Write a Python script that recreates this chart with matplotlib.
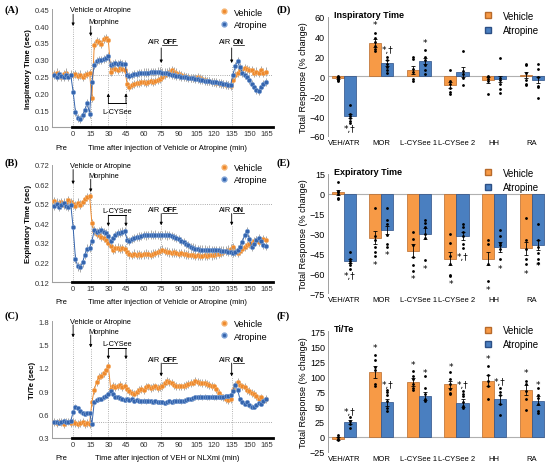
import numpy as np
import matplotlib.pyplot as plt
from matplotlib.lines import Line2D

plt.rcParams['font.family'] = ['Liberation Sans', 'DejaVu Sans']

# ---- time course data (min, every 2 min) ----
time_min = np.arange(-16, 166, 2)

insp_veh = [0.258, 0.262, 0.255, 0.250, 0.258, 0.262, 0.252, 0.256,
            0.255, 0.258, 0.252, 0.256, 0.250, 0.255, 0.258, 0.260,
            0.185,
            0.345, 0.355, 0.352, 0.348, 0.362, 0.365,
            0.358,
            0.265, 0.275, 0.272, 0.270, 0.275, 0.272, 0.268,
            0.228,
            0.220, 0.225, 0.228, 0.232, 0.230, 0.233, 0.235, 0.232, 0.234, 0.236, 0.235, 0.238, 0.240, 0.242,
            0.250, 0.255, 0.262, 0.265, 0.268, 0.265, 0.262, 0.258, 0.255, 0.252,
            0.250, 0.248, 0.246, 0.245, 0.246, 0.248, 0.245, 0.242, 0.240, 0.238,
            0.236, 0.235, 0.234, 0.232, 0.230, 0.228, 0.227, 0.226, 0.224, 0.222,
            0.240, 0.255, 0.262, 0.268, 0.272, 0.275, 0.272, 0.270, 0.268, 0.262,
            0.265, 0.260, 0.268, 0.262, 0.265]
insp_atr = [0.255, 0.250, 0.258, 0.252, 0.248, 0.256, 0.250, 0.254,
            0.205, 0.145, 0.128, 0.125, 0.135, 0.150, 0.172, 0.140,
            0.235,
            0.285, 0.295, 0.298, 0.300, 0.302, 0.305,
            0.312,
            0.285, 0.288, 0.290, 0.287, 0.290, 0.288, 0.286,
            0.255,
            0.252, 0.255, 0.258, 0.258, 0.260, 0.260, 0.262, 0.262, 0.262, 0.263, 0.263, 0.264, 0.265, 0.265,
            0.262, 0.262, 0.260, 0.258, 0.256, 0.255, 0.253, 0.252, 0.250, 0.250,
            0.248, 0.247, 0.246, 0.245, 0.244, 0.242, 0.241, 0.240, 0.238, 0.237,
            0.236, 0.235, 0.234, 0.233, 0.232, 0.230, 0.229, 0.228, 0.226, 0.224,
            0.255, 0.280, 0.295, 0.278, 0.262, 0.255, 0.248, 0.240, 0.228, 0.218,
            0.210, 0.208, 0.220, 0.228, 0.234]

exp_veh = [0.535, 0.525, 0.520, 0.530, 0.515, 0.525, 0.540, 0.530,
           0.520, 0.510, 0.525, 0.515, 0.530, 0.545, 0.555, 0.560,
           0.420,
           0.380, 0.365, 0.360, 0.350, 0.345, 0.335,
           0.320,
           0.305, 0.285, 0.292, 0.295, 0.290, 0.292, 0.288,
           0.275,
           0.262, 0.258, 0.265, 0.260, 0.262, 0.258, 0.262, 0.265, 0.262, 0.260, 0.265, 0.268, 0.272, 0.280,
           0.285, 0.278, 0.275, 0.272, 0.270, 0.272, 0.268, 0.265, 0.268, 0.265,
           0.262, 0.260, 0.258, 0.258, 0.255, 0.256, 0.255, 0.254, 0.256, 0.255,
           0.258, 0.256, 0.258, 0.262, 0.265, 0.270, 0.275, 0.280, 0.285, 0.290,
           0.298, 0.275, 0.270, 0.280, 0.290, 0.300, 0.310, 0.315, 0.320, 0.330,
           0.335, 0.325, 0.330, 0.340, 0.335]
exp_atr = [0.510, 0.520, 0.505, 0.515, 0.525, 0.510, 0.505, 0.515,
           0.400, 0.240, 0.200, 0.195, 0.220, 0.260, 0.290, 0.295,
           0.330,
           0.385, 0.375, 0.380, 0.385, 0.375, 0.370,
           0.355,
           0.330, 0.345, 0.360, 0.370, 0.372, 0.378, 0.380,
           0.335,
           0.330, 0.340, 0.345, 0.350, 0.352, 0.355, 0.360, 0.358, 0.360, 0.362, 0.360, 0.362, 0.360, 0.358,
           0.360, 0.362, 0.358, 0.360, 0.355, 0.350, 0.345, 0.340, 0.330, 0.325,
           0.315, 0.310, 0.300, 0.295, 0.290, 0.288, 0.285, 0.286, 0.285, 0.284,
           0.285, 0.283, 0.284, 0.282, 0.283, 0.280, 0.280, 0.278, 0.276, 0.275,
           0.270, 0.275, 0.285, 0.300, 0.325, 0.360, 0.380, 0.340, 0.300, 0.315,
           0.335, 0.345, 0.330, 0.310, 0.305]

tite_veh = [0.50, 0.49, 0.51, 0.50, 0.48, 0.50, 0.51, 0.49,
            0.50, 0.49, 0.48, 0.49, 0.50, 0.48, 0.49, 0.48,
            0.76,
            0.92, 1.02, 1.08, 1.10, 1.13, 1.17,
            1.22,
            0.93, 0.97, 0.95, 0.96, 0.98, 0.95, 0.97,
            0.93,
            0.90, 0.88, 0.87, 0.89, 0.91, 0.93, 0.92, 0.95, 0.96, 0.94, 0.95, 0.96, 0.94, 0.95,
            0.97, 1.00, 1.03, 1.02, 1.01, 0.98, 0.97, 0.96, 0.96, 0.97,
            0.98, 0.99, 1.00, 1.01, 1.03, 1.02, 1.01, 1.00, 1.00, 0.99,
            0.98, 0.97, 0.96, 0.93, 0.88, 0.84, 0.82, 0.80, 0.79, 0.80,
            0.92, 0.98, 1.02, 0.98, 0.96, 0.95, 0.92, 0.90, 0.88, 0.86,
            0.84, 0.80, 0.82, 0.78, 0.80]
tite_atr = [0.50, 0.51, 0.49, 0.50, 0.52, 0.50, 0.51, 0.52,
            0.63, 0.70, 0.68, 0.64, 0.62, 0.61, 0.62, 0.62,
            0.48,
            0.76, 0.79, 0.80, 0.80, 0.82, 0.84,
            0.87,
            0.90, 0.86, 0.83, 0.82, 0.81, 0.80, 0.79,
            0.80,
            0.79, 0.80, 0.78, 0.79, 0.78, 0.77, 0.78, 0.77, 0.78, 0.77, 0.76, 0.77, 0.76, 0.76,
            0.76, 0.75, 0.76, 0.77, 0.76, 0.77, 0.78, 0.78, 0.77, 0.78,
            0.79, 0.80, 0.80, 0.81, 0.82, 0.82, 0.83, 0.82, 0.83, 0.82,
            0.82, 0.83, 0.82, 0.82, 0.83, 0.82, 0.83, 0.84, 0.84, 0.85,
            0.90, 0.98, 0.92, 0.80, 0.76, 0.74, 0.76, 0.72, 0.70, 0.70,
            0.72, 0.75, 0.74, 0.78, 0.80]

# SEM (approx.)
insp_sem = (0.012, 0.012)
exp_sem = (0.022, 0.022)
tite_sem = (0.05, 0.03)

# ---- total response data ----
categories = ['VEH/ATR', 'MOR', 'L-CYSee 1', 'L-CYSee 2', 'HH', 'RA']

d_veh = [-2, 33, 6, -9, -4, 1]
d_atr = [-40, 13, 15, 4.5, -3, -4]
d_veh_err = [1, 4, 4, 3, 3, 3]
d_atr_err = [2, 3, 3, 5, 3, 3]
d_veh_dots = [[-1, -3, -5, -2, 0, -4], [44, 39, 34, 30, 27, 25], [19, 17, 7, 4, -3, -5],
              [6, -5, -8, -12, -16, -18], [0, -1, -3, -5, -18], [12, 11, 3, -4, -8, -9]]
d_atr_dots = [[-29, -38, -40, -42, -45, -47], [19, 16, 12, 9, 6, 3], [26, 19, 16, 11, 6, 2],
              [25, 5, 2, -2, -9], [18, -2, -4, -8, -13, -17], [12, 7, -1, -10, -11, -22]]
d_marks = [(0, 1, -53, '*,†'), (1, 0, 52, '*'), (1, 1, 27, '*,†'), (2, 1, 34, '*')]

e_veh = [1, -33, -43, -49, -49, -41]
e_atr = [-51, -27, -30, -31.5, -40, -38.5]
e_veh_err = [2, 5, 5, 5, 5, 5]
e_atr_err = [1.5, 3, 4, 3, 4, 4]
e_veh_dots = [[9, 2, 1, 0, -3, -4], [-11, -32, -35, -40, -44, -47], [-29, -34, -39, -48, -54, -58],
              [-30, -37, -47, -53, -61, -62], [-35, -38, -53, -66], [-18, -35, -42, -49, -53]]
e_atr_dots = [[-44, -49, -51, -52, -54, -57], [-11, -20, -23, -31, -38, -40], [-20, -22, -25, -30, -33, -50],
              [-23, -25, -29, -32, -38, -41], [-27, -32, -37, -39, -42, -49], [-23, -35, -40, -45, -49, -52]]
e_marks = [(0, 1, -62, '*,†'), (1, 0, -53, '*'), (1, 1, -46, '*'), (2, 0, -64, '*'),
           (2, 1, -56, '*'), (3, 0, -68, '*'), (3, 1, -47, '*,†'), (4, 0, -72, '*'),
           (4, 1, -56, '*'), (5, 0, -60, '*'), (5, 1, -54, '*')]

f_veh = [-3, 107, 91, 87, 93, 78]
f_atr = [24, 57, 68, 56, 62, 60]
f_veh_err = [2, 10, 6, 6, 9, 8]
f_atr_err = [3, 6, 7, 6, 7, 8]
f_veh_dots = [[3, 0, -4, -6], [136, 128, 116, 110, 87, 84], [109, 100, 95, 87, 81, 78],
              [108, 95, 87, 79, 73, 71], [117, 103, 92, 84, 63], [92, 87, 76, 63, 44]]
f_atr_dots = [[32, 26, 21, 14], [78, 75, 70, 59, 48, 42], [100, 81, 71, 62, 59],
              [76, 71, 67, 57, 51, 47], [81, 75, 70, 55, 36], [81, 70, 65, 54, 43, 40]]
f_marks = [(0, 1, 42, '*,†'), (1, 0, 148, '*'), (1, 1, 87, '*,†'), (2, 0, 120, '*'),
           (2, 1, 106, '*'), (3, 0, 116, '*'), (3, 1, 87, '*,†'), (4, 0, 130, '*'),
           (4, 1, 91, '*,†'), (5, 0, 106, '*'), (5, 1, 87, '*')]

ORANGE = '#EE8A2E'
BLUE = '#3565AE'
BAR_OR = '#F79A46'
BAR_BL = '#4A7FC0'

fig = plt.figure(figsize=(5.5, 4.64), dpi=100)


def time_panel(pos, veh, atr, sem, ylim, yticks, yfmt, ylabel, base, ev, xlabel):
    ax = fig.add_axes(pos)
    ax.errorbar(time_min, veh, yerr=sem[0], fmt='-o', color=ORANGE, ms=3.2, lw=0.7,
                mec='#F6B574', mew=0.4, ecolor='#A8A8A8', elinewidth=0.7, zorder=3)
    ax.errorbar(time_min, atr, yerr=sem[1], fmt='-o', color=BLUE, ms=3.2, lw=0.7,
                mec='#7FA3D6', mew=0.4, ecolor='#A8A8A8', elinewidth=0.7, zorder=4)
    ax.set_xlim(-18, 170)
    ax.set_ylim(ylim)
    ax.set_yticks(yticks)
    ax.set_yticklabels([yfmt % v for v in yticks])
    ax.set_xticks(range(0, 166, 15))
    ax.tick_params(axis='both', labelsize=5.5, length=0, pad=2, colors='#333333')
    for s in ['top', 'right']:
        ax.spines[s].set_visible(False)
    ax.spines['left'].set_color('#A0A0A0')
    ax.spines['bottom'].set_color('#A0A0A0')
    ax.spines['left'].set_linewidth(0.7)
    ax.plot([-1, 170], [ylim[0], ylim[0]], color='k', lw=2, clip_on=False, zorder=5)
    ax.axhline(base, color='#909090', lw=0.6, ls=':', zorder=1)
    ax.set_ylabel(ylabel, fontsize=5.6, fontweight='bold', labelpad=2)
    ax.text(-10, -0.17, 'Pre', transform=ax.get_xaxis_transform(), fontsize=5.5, ha='center', va='center')
    ax.text(80, -0.17, xlabel, transform=ax.get_xaxis_transform(), fontsize=5.5, ha='center', va='center')

    akw = dict(arrowstyle='-|>', lw=0.6, color='k', mutation_scale=4, shrinkA=0, shrinkB=0)
    # vertical dotted event lines
    for x, top in ev['lines']:
        ax.plot([x, x], [ylim[0], top], color='#9A9A9A', lw=0.6, ls=':', zorder=1)
    # Vehicle or Atropine / Morphine
    ax.text(-3, ev['veh_txt'], 'Vehicle or Atropine', fontsize=5.3, ha='left', va='center')
    ax.annotate('', xy=(0, ev['veh_arr'][1]), xytext=(0, ev['veh_arr'][0]), arrowprops=akw)
    ax.text(13, ev['mor_txt'], 'Morphine', fontsize=5.3, ha='left', va='center')
    ax.annotate('', xy=(15, ev['mor_arr'][1]), xytext=(15, ev['mor_arr'][0]), arrowprops=akw)
    # L-CYSee bracket
    y_bar, y_tip, y_txt = ev['lcys']
    ax.plot([30, 45], [y_bar, y_bar], color='k', lw=0.7)
    for x in (30, 45):
        ax.annotate('', xy=(x, y_tip), xytext=(x, y_bar), arrowprops=akw)
    ax.text(37.5, y_txt, 'L-CYSee', fontsize=5.3, ha='center', va='center')
    # AIR OFF / AIR ON
    for x, word in ((75, 'OFF'), (135, 'ON')):
        ax.text(x - 0.5, ev['air_txt'], 'AIR', fontsize=5.3, ha='right', va='center')
        t = ax.text(x + 1, ev['air_txt'], word, fontsize=5.3, ha='left', va='center', fontweight='bold')
        ax.annotate('', xy=(x, ev['air_arr'][1]), xytext=(x, ev['air_arr'][0]), arrowprops=akw)
        fig.canvas.draw()
        bb = t.get_window_extent().transformed(ax.transData.inverted())
        ax.plot([bb.x0, bb.x1], [bb.y0, bb.y0], color='k', lw=0.5)
    handles = [Line2D([], [], marker='o', ls='none', color=ORANGE, mec='#F6B574', ms=3.5),
               Line2D([], [], marker='o', ls='none', color=BLUE, mec='#7FA3D6', ms=3.5)]
    ax.legend(handles, ['Vehicle', 'Atropine'], loc='upper right', bbox_to_anchor=(1.0, 1.06),
              frameon=False, fontsize=6.5, handletextpad=0.1, labelspacing=0.35, borderaxespad=0.2)
    return ax


def bar_panel(pos, veh, atr, veh_err, atr_err, veh_dots, atr_dots, marks, ylim, yticks, title):
    ax = fig.add_axes(pos)
    x = np.arange(len(categories))
    w = 0.32
    ekw = dict(lw=0.6, capsize=1.5, capthick=0.6, ecolor='k')
    ax.bar(x - w / 2, veh, w, yerr=veh_err, color=BAR_OR, edgecolor='#B86A2A', lw=0.5,
           error_kw=ekw, zorder=2)
    ax.bar(x + w / 2, atr, w, yerr=atr_err, color=BAR_BL, edgecolor='#2C4F85', lw=0.5,
           error_kw=ekw, zorder=2)
    for i in range(len(categories)):
        ax.plot([x[i] - w / 2] * len(veh_dots[i]), veh_dots[i], 'o', color='k', ms=1.0, zorder=3)
        ax.plot([x[i] + w / 2] * len(atr_dots[i]), atr_dots[i], 'o', color='k', ms=1.0, zorder=3)
    for i, s, y, txt in marks:
        xx = x[i] - w / 2 if s == 0 else x[i] + w / 2
        ax.text(xx, y, txt, fontsize=6.5, ha='center', va='center', family=['DejaVu Sans'])
    ax.axhline(0, color='#B0B0B0', lw=0.8, zorder=1)
    ax.set_xlim(-0.43, 5.36)
    ax.set_ylim(ylim)
    ax.set_yticks(yticks)
    ax.set_xticks(x)
    ax.set_xticklabels(categories)
    ax.tick_params(axis='x', labelsize=5.5, length=0, pad=2)
    ax.tick_params(axis='y', labelsize=6.5, length=0, pad=2)
    for s in ['top', 'right', 'bottom']:
        ax.spines[s].set_visible(False)
    ax.spines['left'].set_color('#A0A0A0')
    ax.spines['left'].set_linewidth(0.7)
    ax.set_ylabel('Total Response (% change)', fontsize=6.5, labelpad=1)
    ax.text(0.03, 1.02, title, transform=ax.transAxes, fontsize=6.5, fontweight='bold',
            ha='left', va='center')
    handles = [Line2D([], [], marker='s', ls='none', color=BAR_OR, mec='#B86A2A', ms=5),
               Line2D([], [], marker='s', ls='none', color=BAR_BL, mec='#2C4F85', ms=5)]
    ax.legend(handles, ['Vehicle', 'Atropine'], loc='upper right', bbox_to_anchor=(1.0, 1.10),
              frameon=False, fontsize=7, handletextpad=0.6, labelspacing=0.45, borderaxespad=0.2)
    return ax


time_panel([0.0945, 0.724, 0.4015, 0.254], insp_veh, insp_atr, insp_sem, (0.10, 0.45),
           np.arange(0.10, 0.451, 0.05), '%.2f', 'Inspiratory Time (sec)', 0.255,
           dict(lines=[(0, 0.40), (15, 0.37), (30, 0.31), (45, 0.28), (75, 0.29), (135, 0.285)],
                veh_txt=0.448, veh_arr=(0.435, 0.40), mor_txt=0.414, mor_arr=(0.40, 0.37),
                lcys=(0.170, 0.200, 0.145), air_txt=0.355, air_arr=(0.335, 0.29)),
           'Time after injection of Vehicle or Atropine (min)')

time_panel([0.0945, 0.390, 0.4015, 0.253], exp_veh, exp_atr, exp_sem, (0.12, 0.72),
           np.arange(0.12, 0.721, 0.10), '%.2f', 'Expiratory Time (sec)', 0.52,
           dict(lines=[(0, 0.62), (15, 0.58), (30, 0.405), (45, 0.405), (75, 0.41), (135, 0.41)],
                veh_txt=0.715, veh_arr=(0.695, 0.62), mor_txt=0.664, mor_arr=(0.645, 0.58),
                lcys=(0.462, 0.405, 0.487), air_txt=0.49, air_arr=(0.47, 0.41)),
           'Time after injection of Vehicle or Atropine (min)')

time_panel([0.0945, 0.054, 0.4015, 0.252], tite_veh, tite_atr, tite_sem, (0.3, 1.8),
           np.arange(0.3, 1.801, 0.3), '%.1f', 'Ti/Te (sec)', 0.50,
           dict(lines=[(0, 1.59), (15, 1.46), (30, 1.31), (45, 1.31), (75, 1.09), (135, 1.09)],
                veh_txt=1.79, veh_arr=(1.75, 1.59), mor_txt=1.66, mor_arr=(1.62, 1.46),
                lcys=(1.45, 1.31, 1.51), air_txt=1.30, air_arr=(1.26, 1.09)),
           'Time after injection of VEH or NLXmi (min)')

bar_panel([0.596, 0.705, 0.395, 0.257], d_veh, d_atr, d_veh_err, d_atr_err, d_veh_dots, d_atr_dots,
          d_marks, (-60, 60), range(-60, 61, 20), 'Inspiratory Time')
bar_panel([0.596, 0.366, 0.395, 0.257], e_veh, e_atr, e_veh_err, e_atr_err, e_veh_dots, e_atr_dots,
          e_marks, (-75, 15), range(-75, 16, 15), 'Expiratory Time')
bar_panel([0.596, 0.024, 0.395, 0.260], f_veh, f_atr, f_veh_err, f_atr_err, f_veh_dots, f_atr_dots,
          f_marks, (-25, 175), range(-25, 176, 25), 'Ti/Te')

for x, y, lab in [(0.008, 0.978, '(A)'), (0.008, 0.648, '(B)'), (0.008, 0.318, '(C)'),
                  (0.502, 0.978, '(D)'), (0.502, 0.648, '(E)'), (0.502, 0.318, '(F)')]:
    fig.text(x, y, lab, fontsize=7.5, fontweight='bold', family=['Liberation Serif', 'DejaVu Serif'],
             va='center')

fig.savefig('out.png', dpi=100)
